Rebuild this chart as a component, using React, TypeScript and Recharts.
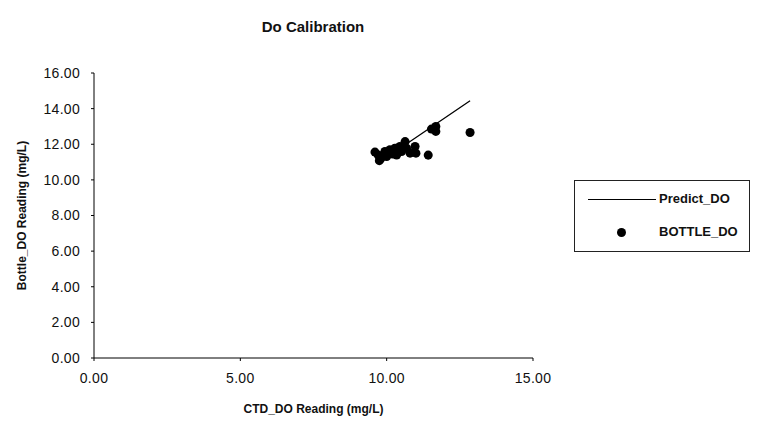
import React from 'react';
import { ScatterChart, Scatter, XAxis, YAxis, ZAxis } from 'recharts';

// CTD reading vs bottle reading (mg/L)
const bottleCtd = [9.6, 9.75, 9.71, 9.8, 9.94, 10.0, 10.11, 10.2, 10.28, 10.34, 10.45, 10.51, 10.63, 10.68, 10.8, 10.97, 11.0, 11.42, 11.53, 11.68, 11.68, 12.85];
const bottleDo = [11.56, 11.08, 11.4, 11.2, 11.59, 11.31, 11.69, 11.45, 11.78, 11.4, 11.87, 11.59, 12.15, 11.78, 11.5, 11.87, 11.5, 11.39, 12.85, 13.0, 12.72, 12.66];

// predicted line
const predictCtd = [9.75, 10.8, 12.85];
const predictDo = [10.98, 12.15, 14.44];

const xTicks = [0, 5, 10, 15];
const yTicks = [0, 2, 4, 6, 8, 10, 12, 14, 16];

const bottleData = bottleCtd.map((x, i) => ({ x, y: bottleDo[i] }));
const predictData = predictCtd.map((x, i) => ({ x, y: predictDo[i] }));

const font = '"Liberation Sans", Arial, sans-serif';
const fmt = (v: number) => v.toFixed(2);
const tickStyle = { fill: '#111', fontFamily: font, fontSize: 14, letterSpacing: 0.3 };

const LegendBox = () => (
  <div
    style={{
      position: 'absolute',
      left: 574,
      top: 180,
      border: '1px solid #222',
      width: 176,
      height: 72,
      fontFamily: font,
      fontSize: 13,
      fontWeight: 'bold',
      color: '#111',
      boxSizing: 'border-box',
    }}
  >
    <div style={{ position: 'absolute', left: 13, top: 18, width: 68, borderTop: '1.3px solid #000' }} />
    <div style={{ position: 'absolute', left: 84, top: 10 }}>Predict_DO</div>
    <div
      style={{
        position: 'absolute',
        left: 42,
        top: 47,
        width: 9,
        height: 9,
        borderRadius: '50%',
        background: '#000',
      }}
    />
    <div style={{ position: 'absolute', left: 84, top: 43 }}>BOTTLE_DO</div>
  </div>
);

const App: React.FC = () => {
  return (
    <div style={{ position: 'absolute', left: 0, top: 0, width: 769, height: 423, background: '#fff' }}>
      <div
        style={{
          position: 'absolute',
          top: 18,
          left: 0,
          width: 626,
          textAlign: 'center',
          fontFamily: font,
          fontWeight: 'bold',
          fontSize: 15,
          color: '#111',
        }}
      >
        Do Calibration
      </div>
      <ScatterChart width={769} height={423} margin={{ top: 73, right: 236, bottom: 5, left: 10 }}>
        <XAxis
          type="number"
          dataKey="x"
          domain={[0, 15]}
          ticks={xTicks}
          tickFormatter={fmt}
          height={60}
          tickSize={3}
          tickMargin={12}
          stroke="#000"
          tick={tickStyle}
          label={{
            value: 'CTD_DO Reading (mg/L)',
            position: 'insideBottom',
            offset: 5,
            style: { fontFamily: font, fontSize: 12, fontWeight: 'bold', fill: '#111' },
          }}
        />
        <YAxis
          type="number"
          dataKey="y"
          domain={[0, 16]}
          ticks={yTicks}
          tickFormatter={fmt}
          width={84}
          tickSize={3}
          tickMargin={11}
          stroke="#000"
          tick={tickStyle}
          label={{
            value: 'Bottle_DO Reading (mg/L)',
            angle: -90,
            position: 'insideLeft',
            offset: 12,
            style: { textAnchor: 'middle', fontFamily: font, fontSize: 12, fontWeight: 'bold', fill: '#111' },
          }}
        />
        <ZAxis range={[64, 64]} />
        <Scatter
          name="Predict_DO"
          data={predictData}
          line={{ stroke: '#000', strokeWidth: 1.3 }}
          shape={() => <g />}
          isAnimationActive={false}
        />
        <Scatter name="BOTTLE_DO" data={bottleData} fill="#000" isAnimationActive={false} />
      </ScatterChart>
      <LegendBox />
    </div>
  );
};

export default App;
